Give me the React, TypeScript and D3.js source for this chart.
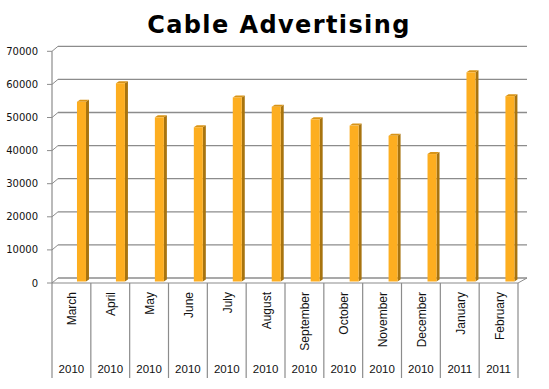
import { useEffect, useRef } from 'react';
import * as d3 from 'd3';

const months = ["March", "April", "May", "June", "July", "August", "September", "October", "November", "December", "January", "February"];
const years = ["2010", "2010", "2010", "2010", "2010", "2010", "2010", "2010", "2010", "2010", "2011", "2011"];
const spend = [54300, 59900, 49600, 46600, 55600, 52800, 49000, 47100, 44000, 38500, 63200, 56000];
const yTicks = [0, 10000, 20000, 30000, 40000, 50000, 60000, 70000];

export default function App() {
  const svgRef = useRef<SVGSVGElement>(null);

  useEffect(() => {
    if (!svgRef.current) return;
    const svg = d3.select(svgRef.current);
    svg.selectAll("*").remove();

    const width = 549;
    const height = 389;
    svg.attr("width", width).attr("height", height);

    // 3d depth of the plot: back wall is shifted right/up from the front axis
    const dx = 6;
    const dy = 5;
    const grid = "#8c8c8c";

    const yBack = d3.scaleLinear().domain([0, 70000]).range([278, 46.3]);
    const yFront = (v: number) => yBack(v) + dy;

    const xFront = d3.scaleBand<string>().domain(months).range([52, 518]);
    const xBar = d3.scaleBand<string>().domain(months).range([62, 529.4]);

    svg.append("text")
      .attr("x", 279)
      .attr("y", 33)
      .attr("text-anchor", "middle")
      .style("font-family", "'DejaVu Sans', Verdana, sans-serif")
      .style("font-weight", "bold")
      .style("font-size", "24px")
      .style("letter-spacing", "1.4px")
      .text("Cable Advertising");

    const g = svg.append("g");

    // back wall gridlines + side wall diagonals + ticks
    yTicks.forEach(v => {
      g.append("line")
        .attr("x1", 52 + dx).attr("x2", 527)
        .attr("y1", yBack(v)).attr("y2", yBack(v))
        .attr("stroke", grid).attr("stroke-width", 1.3);
      g.append("line")
        .attr("x1", 52).attr("x2", 52 + dx)
        .attr("y1", yFront(v)).attr("y2", yBack(v))
        .attr("stroke", grid).attr("stroke-width", 1);
      g.append("line")
        .attr("x1", 47).attr("x2", 52)
        .attr("y1", yFront(v)).attr("y2", yFront(v))
        .attr("stroke", grid).attr("stroke-width", 1);
      g.append("text")
        .attr("x", 38)
        .attr("y", yFront(v))
        .attr("dy", "0.35em")
        .attr("text-anchor", "end")
        .style("font-family", "'DejaVu Sans', Verdana, sans-serif")
        .style("font-size", "10px")
        .attr("fill", "#111")
        .text(v);
    });

    // axis line and floor
    g.append("line")
      .attr("x1", 52).attr("x2", 52)
      .attr("y1", yFront(70000)).attr("y2", yFront(0))
      .attr("stroke", grid).attr("stroke-width", 1.2);
    g.append("line")
      .attr("x1", 52).attr("x2", 518)
      .attr("y1", yFront(0)).attr("y2", yFront(0))
      .attr("stroke", grid).attr("stroke-width", 1.2);
    g.append("line")
      .attr("x1", 518).attr("x2", 527)
      .attr("y1", yFront(0)).attr("y2", yBack(0))
      .attr("stroke", grid).attr("stroke-width", 1);

    // bars: front face, side, top
    const bw = 9, depthX = 3, depthY = 2, barOff = 3.5;
    months.forEach((m, i) => {
      const cx = (xBar(m) ?? 0) + xBar.bandwidth() / 2;
      const x0 = cx - bw / 2;
      const x1 = cx + bw / 2;
      const top = yBack(spend[i]) + barOff;
      const base = yBack(0) + barOff;
      g.append("path")
        .attr("d", `M${x1},${top}L${x1 + depthX},${top - depthY}L${x1 + depthX},${base - depthY}L${x1},${base}Z`)
        .attr("fill", "#a8740f");
      g.append("path")
        .attr("d", `M${x0},${top}L${x0 + depthX},${top - depthY}L${x1 + depthX},${top - depthY}L${x1},${top}Z`)
        .attr("fill", "#d89418");
      g.append("rect")
        .attr("x", x0).attr("y", top)
        .attr("width", bw).attr("height", base - top)
        .attr("fill", "#fdae20");
    });

    // category separators
    const bounds = months.map(m => xFront(m) ?? 0).concat([518]);
    bounds.forEach(x => {
      g.append("line")
        .attr("x1", x).attr("x2", x)
        .attr("y1", yFront(0)).attr("y2", 378)
        .attr("stroke", grid).attr("stroke-width", 1.2);
    });

    months.forEach((m, i) => {
      const cx = (xFront(m) ?? 0) + xFront.bandwidth() / 2;
      g.append("text")
        .attr("transform", `translate(${cx + 5},292) rotate(-90)`)
        .attr("text-anchor", "end")
        .style("font-family", "'Liberation Sans', Arial, sans-serif")
        .style("font-size", "12px")
        .attr("fill", "#111")
        .text(m);
      g.append("text")
        .attr("x", cx)
        .attr("y", 373)
        .attr("text-anchor", "middle")
        .style("font-family", "'Liberation Sans', Arial, sans-serif")
        .style("font-size", "11.5px")
        .attr("fill", "#111")
        .text(years[i]);
    });
  }, []);

  return <svg ref={svgRef} style={{ position: "absolute", left: 0, top: 0, background: "#fff" }}></svg>;
}
